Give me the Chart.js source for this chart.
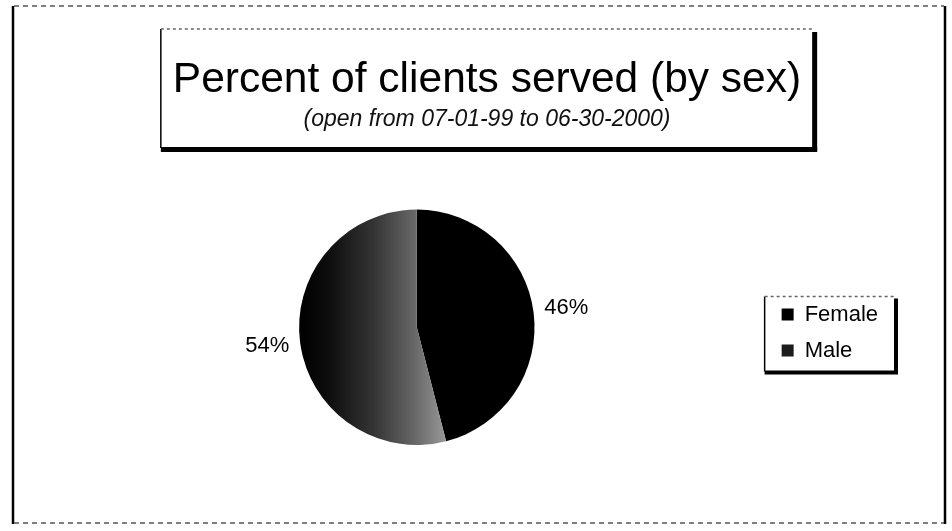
<!DOCTYPE html>
<html>
<head>
<meta charset="utf-8">
<title>Percent of clients served (by sex)</title>
<script src="https://cdn.jsdelivr.net/npm/chart.js@4.4.1/dist/chart.umd.min.js"></script>
<style>
  html, body { margin: 0; padding: 0; background: #fff; }
  #wrap { width: 952px; height: 531px; position: relative; }
</style>
</head>
<body>
<div id="wrap"><canvas id="sexChart"></canvas></div>
<script>
const categories = ['Female', 'Male'];
const percentServed = [46, 54];
const chartTitle = 'Percent of clients served (by sex)';
const chartSubtitle = '(open from 07-01-99 to 06-30-2000)';

const FONT = '"Liberation Sans", Arial, Helvetica, sans-serif';
const swatches = ['#000', '#1c1c1c'];

// male wedge: solid black at the rim, washing out to grey toward the split
function maleFill(chart) {
    const area = chart.chartArea;
    if (!area) return '#333';
    const cx = (area.left + area.right) / 2;
    const r = Math.min(area.width, area.height) / 2;
    const g = chart.ctx.createLinearGradient(cx - r, 0, cx + r * 0.25, 0);
    g.addColorStop(0, '#000');
    g.addColorStop(0.2, '#0d0d0d');
    g.addColorStop(0.5, '#333');
    g.addColorStop(0.78, '#666');
    g.addColorStop(1, '#999');
    return g;
}

// pie sits left of centre, legend lower right
const placement = {
    id: 'placement',
    afterLayout(chart) {
        const lg = chart.legend;
        const area = chart.chartArea;
        area.right = lg.left - 20;
        area.width = area.right - area.left;
        lg.left -= 16;
        lg.right -= 16;
        lg.top += 100;
        lg.bottom += 100;
    }
};

const framePlugin = {
    id: 'frames',
    beforeDraw(chart) {
        const ctx = chart.ctx;
        ctx.save();
        ctx.fillStyle = '#fff';
        ctx.fillRect(0, 0, chart.width, chart.height);

        // page border: heavy sides, broken top and bottom
        ctx.strokeStyle = '#000';
        ctx.lineWidth = 2.5;
        ctx.beginPath();
        ctx.moveTo(13, 6); ctx.lineTo(13, 524);
        ctx.moveTo(945, 6); ctx.lineTo(945, 524);
        ctx.stroke();
        ctx.lineWidth = 1.5;
        ctx.strokeStyle = '#555';
        ctx.setLineDash([5, 4]);
        ctx.beginPath();
        ctx.moveTo(14, 6); ctx.lineTo(944, 6);
        ctx.moveTo(14, 523); ctx.lineTo(944, 523);
        ctx.stroke();
        ctx.setLineDash([]);

        // title box with drop shadow on right and bottom
        const tb = chart.titleBlock;
        ctx.font = '42.5px ' + FONT;
        const tw = ctx.measureText(chartTitle).width;
        const tcx = (tb.left + tb.right) / 2;
        const bx1 = tcx - tw / 2 - 12, bx2 = tcx + tw / 2 + 12;
        const by1 = tb.top + 9, by2 = by1 + 119;
        ctx.strokeStyle = '#000';
        ctx.lineWidth = 1.5;
        ctx.beginPath();
        ctx.moveTo(bx1, by2); ctx.lineTo(bx1, by1);
        ctx.stroke();
        ctx.strokeStyle = '#666';
        ctx.setLineDash([3, 3]);
        ctx.beginPath();
        ctx.moveTo(bx1, by1); ctx.lineTo(bx2, by1);
        ctx.stroke();
        ctx.setLineDash([]);
        ctx.fillStyle = '#000';
        ctx.fillRect(bx2 - 1, by1 + 3, 5, by2 - by1);
        ctx.fillRect(bx1, by2 - 1, bx2 - bx1 + 4, 5);

        // legend box
        const hbs = chart.legend.legendHitBoxes;
        if (hbs && hbs.length) {
            const lx1 = Math.min(...hbs.map(h => h.left)) - 17;
            const lx2 = Math.max(...hbs.map(h => h.left + h.width)) + 17;
            const ly1 = Math.min(...hbs.map(h => h.top)) - 7;
            const ly2 = Math.max(...hbs.map(h => h.top + h.height)) + 10;
            ctx.strokeStyle = '#000';
            ctx.lineWidth = 1.5;
            ctx.beginPath();
            ctx.moveTo(lx1, ly2); ctx.lineTo(lx1, ly1);
            ctx.stroke();
            ctx.strokeStyle = '#666';
            ctx.setLineDash([3, 3]);
            ctx.beginPath();
            ctx.moveTo(lx1, ly1); ctx.lineTo(lx2, ly1);
            ctx.stroke();
            ctx.setLineDash([]);
            ctx.fillStyle = '#000';
            ctx.fillRect(lx2 - 1, ly1 + 2, 4, ly2 - ly1);
            ctx.fillRect(lx1, ly2 - 1, lx2 - lx1 + 3, 4);
        }
        ctx.restore();
    }
};

// percentage labels just outside each wedge
const pctLabels = {
    id: 'pctLabels',
    afterDatasetsDraw(chart) {
        const ctx = chart.ctx;
        const meta = chart.getDatasetMeta(0);
        ctx.save();
        ctx.font = '22px ' + FONT;
        ctx.fillStyle = '#000';
        ctx.textAlign = 'center';
        ctx.textBaseline = 'middle';
        meta.data.forEach((arc, i) => {
            const p = arc.getProps(['x', 'y', 'startAngle', 'endAngle', 'outerRadius'], true);
            const mid = (p.startAngle + p.endAngle) / 2;
            const d = p.outerRadius + 33;
            ctx.fillText(percentServed[i] + '%', p.x + Math.cos(mid) * d, p.y + Math.sin(mid) * d);
        });
        ctx.restore();
    }
};

const ctx = document.getElementById('sexChart').getContext('2d');
new Chart(ctx, {
    type: 'pie',
    data: {
        labels: categories,
        datasets: [{
            data: percentServed,
            backgroundColor: (c) => c.dataIndex === 0 ? swatches[0] : maleFill(c.chart),
            borderWidth: 0
        }]
    },
    options: {
        responsive: true,
        maintainAspectRatio: false,
        animation: false,
        events: [],
        layout: {
            padding: { top: 20, left: 70, right: 48, bottom: 86 }
        },
        plugins: {
            title: {
                display: true,
                text: chartTitle,
                color: '#000',
                font: { family: FONT, size: 42.5, weight: 'normal' },
                padding: { top: 35, bottom: 0 }
            },
            subtitle: {
                display: true,
                text: chartSubtitle,
                color: '#111',
                font: { family: FONT, size: 23, style: 'italic' },
                padding: { top: 0, bottom: 76 }
            },
            legend: {
                position: 'right',
                labels: {
                    color: '#000',
                    font: { family: FONT, size: 22 },
                    boxWidth: 12,
                    boxHeight: 12,
                    padding: 14,
                    generateLabels() {
                        return categories.map((name, i) => ({
                            text: name,
                            fillStyle: swatches[i],
                            strokeStyle: swatches[i],
                            lineWidth: 0,
                            hidden: false,
                            index: i
                        }));
                    }
                }
            },
            tooltip: { enabled: false }
        }
    },
    plugins: [placement, framePlugin, pctLabels]
});
</script>
</body>
</html>
